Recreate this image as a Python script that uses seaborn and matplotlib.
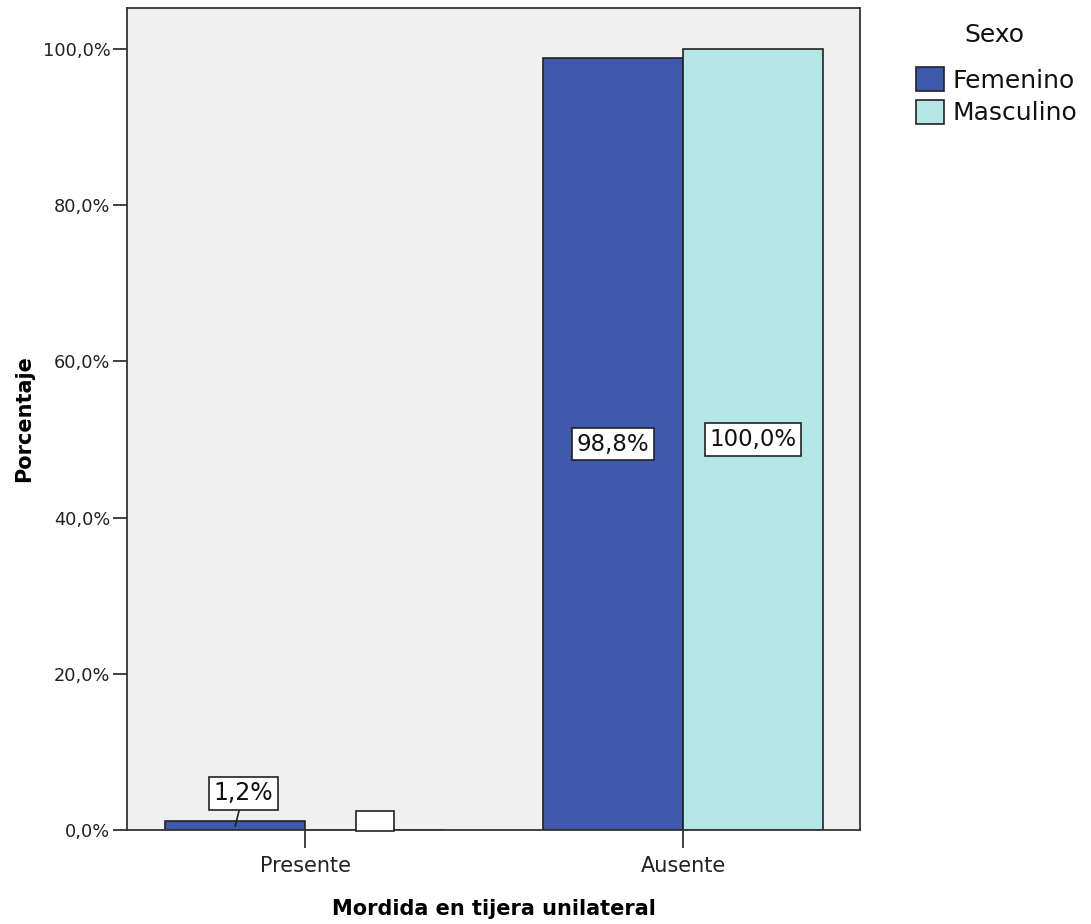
import pandas as pd
import seaborn as sns
import matplotlib.pyplot as plt
from matplotlib.ticker import FuncFormatter

## Datos
categorias = ["Presente", "Ausente"]
sexos = ["Femenino", "Masculino"]
femenino = [1.2, 98.8]
masculino = [0.0, 100.0]
colores = ["#3E58AC", "#B4E6E6"]

df = pd.DataFrame({
    "categoria": categorias * 2,
    "sexo": [sexos[0]] * 2 + [sexos[1]] * 2,
    "porcentaje": femenino + masculino,
})

sns.set_style("ticks")
plt.rcParams["font.family"] = ["DejaVu Sans"]
plt.rcParams["text.color"] = "#111111"
plt.rcParams["axes.labelcolor"] = "#000000"
plt.rcParams["xtick.labelcolor"] = "#222222"
plt.rcParams["ytick.labelcolor"] = "#222222"

fig = plt.figure(figsize=(10.91, 9.24), dpi=100)
ax = fig.add_axes([127 / 1091, 1 - 830 / 924, (860 - 127) / 1091, (830 - 8) / 924])
ax.set_facecolor("#F0F0F0")

sns.barplot(data=df, x="categoria", y="porcentaje", hue="sexo", order=categorias,
            hue_order=sexos, palette=colores, saturation=1, width=0.74,
            edgecolor="#222222", linewidth=1.2, ax=ax)

ax.set_xlim(-0.471, 1.468)
ax.set_ylim(0, 105.25)
ax.set_yticks([0, 20, 40, 60, 80, 100])
ax.yaxis.set_major_formatter(FuncFormatter(lambda v, p: f"{v:.1f}%".replace(".", ",")))
ax.tick_params(axis="y", labelsize=12.8, length=10, width=1.3, color="#333333", pad=2)
ax.tick_params(axis="x", labelsize=15, length=13, width=1.3, color="#333333", pad=6)
for s in ax.spines.values():
    s.set_visible(True)
    s.set_color("#333333")
    s.set_linewidth(1.3)

ax.set_xlabel("Mordida en tijera unilateral", fontsize=15, fontweight="bold", labelpad=16)
ax.set_ylabel("Porcentaje", fontsize=15, fontweight="bold", labelpad=6)

caja = dict(boxstyle="square,pad=0.2", fc="white", ec="#222222", lw=1.2)

## Etiquetas de valores
for cont in ax.containers:
    for p in cont.patches:
        h = p.get_height()
        xc = p.get_x() + p.get_width() / 2
        txt = f"{h:.1f}%".replace(".", ",")
        if h >= 50:
            ax.text(xc, h / 2, txt, ha="center", va="center", fontsize=16.5, bbox=caja)
        elif h > 0:
            ax.annotate(txt, xy=(xc, h * 0.4), xytext=(xc + 0.022, 4.7),
                        ha="center", va="center", fontsize=17, bbox=caja,
                        arrowprops=dict(arrowstyle="-", color="#222222", lw=1.2,
                                        shrinkA=0, shrinkB=0))
        else:
            ax.text(xc, 0.3, "\u2007" * 4, ha="center", va="bottom", fontsize=8.5,
                    bbox=dict(boxstyle="square,pad=0.3", fc="white", ec="#222222", lw=1.2))

ax.legend_.remove()
handles = [plt.Rectangle((0, 0), 1, 1, fc=c, ec="#222222", lw=1.2) for c in colores]
fig.text(994 / 1091, 1 - 35 / 924, "Sexo", ha="center", va="center", fontsize=18)
fig.legend(handles, sexos, loc="upper left",
           bbox_to_anchor=(916 / 1091, 1 - 67 / 924), frameon=False, fontsize=18,
           handlelength=1.1, handleheight=1.1, handletextpad=0.35,
           labelspacing=0.3, borderpad=0, borderaxespad=0)

fig.savefig("out.png", dpi=100)
